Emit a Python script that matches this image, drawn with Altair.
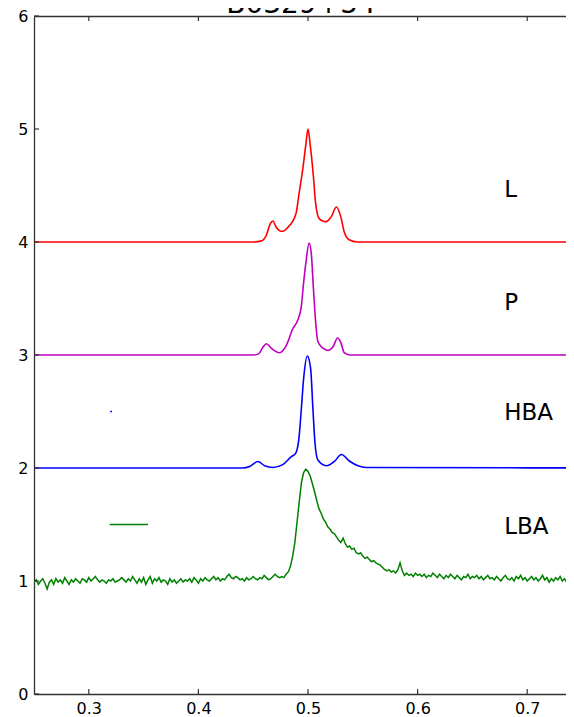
import altair as alt
import pandas as pd

# ---------------- data ----------------
series_names = ["L", "P", "HBA", "LBA"]
series_colors = ["#ff0000", "#bf00bf", "#0000ff", "#008000"]

L_x = [0.25, 0.450, 0.4574, 0.462, 0.4655, 0.468, 0.471, 0.474, 0.477, 0.4817, 0.489, 0.492, 0.495,
       0.498, 0.500, 0.502, 0.5045, 0.507, 0.510, 0.5135, 0.5165, 0.521, 0.526, 0.530, 0.533,
       0.5375, 0.545, 0.80]
L_y = [4.0, 4.0, 4.01, 4.06, 4.16, 4.186, 4.13, 4.10, 4.095, 4.13, 4.25, 4.44, 4.63,
       4.86, 5.0, 4.86, 4.63, 4.34, 4.21, 4.185, 4.18, 4.22, 4.31, 4.22, 4.09,
       4.02, 4.0, 4.0]

P_x = [0.25, 0.450, 0.455, 0.459, 0.462, 0.4665, 0.474, 0.480, 0.486, 0.4907, 0.4939, 0.496, 0.498,
       0.501, 0.503, 0.505, 0.507, 0.509, 0.5137, 0.518, 0.5227, 0.527, 0.530, 0.533, 0.538, 0.80]
P_y = [3.0, 3.0, 3.01, 3.07, 3.10, 3.06, 3.02, 3.08, 3.23, 3.31, 3.43, 3.64, 3.81,
       3.99, 3.90, 3.58, 3.29, 3.12, 3.06, 3.04, 3.07, 3.15, 3.11, 3.02, 3.0, 3.0]

HBA_x = [0.25, 0.440, 0.4468, 0.4543, 0.4604, 0.468, 0.477, 0.4848, 0.4887, 0.4917, 0.4939, 0.496,
         0.4994, 0.5024, 0.5045, 0.5063, 0.509, 0.5167, 0.5243, 0.5304, 0.538, 0.5456, 0.553, 0.80]
HBA_y = [2.0, 2.0, 2.013, 2.057, 2.02, 2.005, 2.03, 2.10, 2.13, 2.26, 2.52, 2.79,
         2.99, 2.88, 2.52, 2.23, 2.07, 2.02, 2.06, 2.12, 2.06, 2.02, 2.005, 2.0]

# LBA: phase bins starting at 0.250, spacing 0.002
LBA_start = 0.25
LBA_step = 0.002
LBA_y = [
    0.99, 1.01, 0.97, 1.00, 1.02, 0.98, 0.93, 0.99, 1.01, 0.97,
    1.02, 0.99, 1.01, 0.98, 1.03, 1.00, 0.97, 1.01, 0.99, 1.02,
    1.00, 0.98, 1.02, 1.01, 0.99, 1.03, 1.00, 1.02, 1.04, 1.01,
    0.99, 1.01, 1.00, 0.98, 1.01, 1.00, 1.02, 0.99, 1.00, 1.01,
    1.03, 1.01, 0.99, 1.02, 1.00, 1.04, 1.01, 0.98, 1.02, 0.99,
    1.03, 0.97, 1.01, 1.04, 0.98, 1.02, 1.00, 1.03, 0.99, 1.01,
    1.00, 0.97, 1.02, 0.99, 1.01, 0.98, 1.00, 1.02, 0.99, 1.01,
    1.00, 1.02, 0.99, 1.03, 1.01, 0.98, 1.02, 1.00, 1.03, 1.01,
    1.00, 1.02, 1.04, 1.01, 1.03, 1.00, 1.02, 1.01, 1.04, 1.06,
    1.03, 1.02, 1.04, 1.03, 1.01, 1.02, 1.00, 1.03, 1.01, 1.02,
    1.04, 1.02, 1.01, 1.03, 1.02, 1.05, 1.03, 1.01,
    1.02, 1.04, 1.06, 1.04, 1.03, 1.04, 1.03, 1.06, 1.08, 1.13,
    1.22, 1.34, 1.52, 1.70, 1.87, 1.96, 1.99, 1.97, 1.93, 1.86,
    1.79, 1.71, 1.64, 1.60, 1.55, 1.52, 1.48, 1.46, 1.43, 1.42,
    1.39, 1.36, 1.34, 1.38, 1.33, 1.30, 1.31, 1.28, 1.29, 1.25,
    1.24, 1.25, 1.22, 1.20, 1.21, 1.19, 1.17, 1.18, 1.16, 1.15,
    1.14, 1.12, 1.10, 1.09, 1.10, 1.08, 1.09, 1.07, 1.10, 1.16,
    1.09, 1.05, 1.07, 1.05, 1.06, 1.04, 1.07, 1.05, 1.06,
    1.04, 1.06, 1.03, 1.05, 1.04, 1.07, 1.05, 1.03, 1.06, 1.04,
    1.02, 1.05, 1.03, 1.06, 1.04, 1.02, 1.05, 1.03, 1.01, 1.04,
    1.03, 1.06, 1.02, 1.04, 1.03, 1.05, 1.02, 1.04, 1.01, 1.03,
    1.05, 1.02, 1.03, 1.01, 1.04, 1.02, 1.00, 1.03, 1.05, 1.02,
    1.01, 1.03, 1.00, 1.04, 1.02, 1.05, 1.01, 1.03, 1.00, 1.02,
    1.04, 1.01, 1.03, 1.00, 1.02, 1.05, 1.01, 1.03, 0.99, 1.02,
    1.00, 1.03, 1.01, 1.04, 1.00, 1.02, 0.99, 1.03, 1.01, 1.02,
    1.00, 1.03, 1.01, 1.02,
]

label_x = 0.679
label_y = [4.46, 3.46, 2.49, 1.48]

# small marks drawn in the left part of the panel
mark_series = ["HBA", "HBA", "LBA", "LBA"]
mark_seg = ["h", "h", "l", "l"]
mark_x = [0.3195, 0.3212, 0.319, 0.354]
mark_y = [2.50, 2.50, 1.50, 1.50]

x_ticks = [0.3, 0.4, 0.5, 0.6, 0.7]
y_ticks = [0, 1, 2, 3, 4, 5, 6]
title_text = "B0329+54"

# ---------------- build tables ----------------
rows = []
for name, xs, ys in [("L", L_x, L_y), ("P", P_x, P_y), ("HBA", HBA_x, HBA_y)]:
    for i, (a, b) in enumerate(zip(xs, ys)):
        rows.append({"x": a, "y": b, "series": name, "order": i})
smooth_df = pd.DataFrame(rows)

lba_df = pd.DataFrame({
    "x": [round(LBA_start + i * LBA_step, 4) for i in range(len(LBA_y))],
    "y": LBA_y,
    "series": "LBA",
})
lba_df["order"] = range(len(lba_df))

labels_df = pd.DataFrame({"name": series_names, "x": label_x, "y": label_y})
marks_df = pd.DataFrame({"x": mark_x, "y": mark_y, "series": mark_series, "seg": mark_seg})
xt_df = pd.DataFrame({"t": x_ticks})
yt_df = pd.DataFrame({"t": y_ticks})

W, H = 532, 678
FONT = "DejaVu Sans"
AX = "#333333"

xscale = alt.Scale(domain=[0.25, 0.7354], nice=False, zero=False)
yscale = alt.Scale(domain=[0, 6], nice=False, zero=True)
color = alt.Color("series:N", scale=alt.Scale(domain=series_names, range=series_colors), legend=None)

x_bottom = alt.Axis(values=x_ticks, format=".1f", ticks=False, tickSize=0, grid=False,
                    domain=True, domainColor=AX, domainWidth=1.3,
                    labelFont=FONT, labelFontSize=16, labelColor="black", labelPadding=6, title=None)
y_left = alt.Axis(values=y_ticks, format="d", ticks=False, tickSize=0, grid=False,
                  domain=True, domainColor=AX, domainWidth=1.3,
                  labelFont=FONT, labelFontSize=16, labelColor="black", labelPadding=6, title=None)

smooth = alt.Chart(smooth_df).mark_line(interpolate="monotone", strokeWidth=1.6, clip=True).encode(
    x=alt.X("x:Q", scale=xscale, axis=x_bottom),
    y=alt.Y("y:Q", scale=yscale, axis=y_left),
    color=color,
    detail="series:N",
    order="order:Q",
)

lba = alt.Chart(lba_df).mark_line(strokeWidth=1.5, clip=True).encode(
    x=alt.X("x:Q", scale=xscale, axis=None),
    y=alt.Y("y:Q", scale=yscale, axis=None),
    color=color,
    order="order:Q",
)

marks = alt.Chart(marks_df).mark_line(strokeWidth=1.5).encode(
    x=alt.X("x:Q", scale=xscale, axis=None),
    y=alt.Y("y:Q", scale=yscale, axis=None),
    color=color,
    detail="seg:N",
)

labels = alt.Chart(labels_df).mark_text(align="left", baseline="middle", font=FONT,
                                        fontSize=23, color="black").encode(
    x=alt.X("x:Q", scale=xscale, axis=None),
    y=alt.Y("y:Q", scale=yscale, axis=None),
    text="name:N",
)

top_axis = alt.Chart(xt_df).mark_rule(color=AX, strokeWidth=1.2).encode(
    x=alt.X("t:Q", scale=xscale,
            axis=alt.Axis(orient="top", labels=False, ticks=False, tickSize=0, grid=False,
                          domain=True, domainColor=AX, domainWidth=1.3, title=None)),
    y=alt.value(0), y2=alt.value(5),
)
bottom_ticks = alt.Chart(xt_df).mark_rule(color=AX, strokeWidth=1.2).encode(
    x=alt.X("t:Q", scale=xscale, axis=None),
    y=alt.value(H), y2=alt.value(H - 5),
)
left_ticks = alt.Chart(yt_df).mark_rule(color=AX, strokeWidth=1.2).encode(
    y=alt.Y("t:Q", scale=yscale, axis=None),
    x=alt.value(0), x2=alt.value(5),
)

title = alt.Chart(pd.DataFrame({"t": [title_text]})).mark_text(
    font=FONT, fontSize=28, align="center", baseline="alphabetic", color="black", clip=False
).encode(x=alt.value(267), y=alt.value(-3), text="t:N")

chart = alt.layer(
    smooth, lba, marks, labels, top_axis, bottom_ticks, left_ticks, title
).resolve_axis(x="independent", y="independent").properties(
    width=W, height=H,
    autosize=alt.AutoSizeParams(type="none"),
    padding={"left": 26, "top": 8, "right": 0, "bottom": 22},
).configure_view(stroke=None)

chart.save("out.html", embed_options={"renderer": "svg", "actions": False})
